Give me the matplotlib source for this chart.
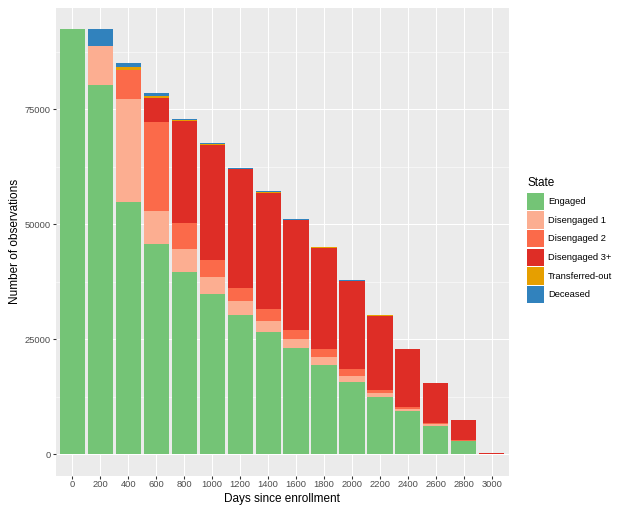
import matplotlib.pyplot as plt
import numpy as np
from matplotlib.patches import Rectangle

plt.rcParams["font.family"] = ["Liberation Sans", "DejaVu Sans"]

# Days since enrollment (discrete levels)
days = ["0", "200", "400", "600", "800", "1000", "1200", "1400", "1600",
        "1800", "2000", "2200", "2400", "2600", "2800", "3000"]

engaged = [92460, 80350, 54810, 45720, 39700, 34850, 30280, 26650, 23040,
           19480, 15780, 12460, 9350, 6220, 2800, 60]
disengaged_1 = [0, 8480, 22370, 7170, 4870, 3630, 3110, 2390, 2030,
                1740, 1310, 870, 500, 370, 100, 10]
disengaged_2 = [0, 0, 6430, 19290, 5710, 3700, 2830, 2480, 1950,
                1610, 1390, 710, 430, 210, 140, 10]
disengaged_3 = [0, 0, 0, 5350, 22250, 25100, 25720, 25360, 23890,
                22070, 19200, 16120, 12510, 8620, 4300, 230]
transferred = [0, 0, 520, 430, 130, 110, 100, 90, 80,
               70, 60, 50, 40, 30, 20, 0]
deceased = [0, 3630, 1000, 650, 300, 240, 200, 160, 120,
            100, 90, 70, 60, 50, 30, 0]

states = ["Engaged", "Disengaged 1", "Disengaged 2", "Disengaged 3+",
          "Transferred-out", "Deceased"]
colors = ["#74C476", "#FCAE91", "#FB6A4A", "#DE2D26", "#E69F00", "#3182BD"]
series = [engaged, disengaged_1, disengaged_2, disengaged_3, transferred, deceased]

W, H = 624, 513
fig = plt.figure(figsize=(W / 72, H / 72), dpi=72)
ax = fig.add_axes([55.7 / W, 1 - 475.5 / H, (508.5 - 55.7) / W, (475.5 - 7.7) / H])
ax.set_facecolor("#EBEBEB")

x = np.arange(len(days))
bottom = np.zeros(len(days))
for vals, col in zip(series, colors):
    ax.bar(x, vals, width=0.9, bottom=bottom, color=col, linewidth=0, zorder=3)
    bottom += np.array(vals)

top = bottom.max()
ax.set_xlim(-0.6, len(days) - 0.4)
ax.set_ylim(-0.05 * top, 1.05 * top)

ax.set_xticks(x)
ax.set_xticklabels(days)
ax.set_yticks([0, 25000, 50000, 75000])
ax.set_yticklabels(["0", "25000", "50000", "75000"])
ax.set_yticks([12500, 37500, 62500, 87500], minor=True)

ax.grid(True, which="major", color="white", linewidth=1.07, zorder=0)
ax.grid(True, which="minor", axis="y", color="white", linewidth=0.53, zorder=0)
ax.set_axisbelow(True)
for s in ax.spines.values():
    s.set_visible(False)
ax.tick_params(which="major", length=2.75, width=1.07, color="#333333",
               labelsize=9.4, labelcolor="#4D4D4D", pad=2.2)
ax.tick_params(which="minor", length=0)

ax.set_xlabel("Days since enrollment", fontsize=11.7, color="black", labelpad=4)
ax.set_ylabel("Number of observations", fontsize=11.7, color="black", labelpad=4)

# legend drawn in pixel coordinates
lax = fig.add_axes([0, 0, 1, 1])
lax.set_xlim(0, W)
lax.set_ylim(H, 0)
lax.axis("off")
lax.text(527, 183.5, "State", fontsize=11.7, va="center", ha="left")
key_h = 18.6
for i, (name, col) in enumerate(zip(states, colors)):
    y0 = 192.3 + i * key_h
    lax.add_patch(Rectangle((527.3, y0 + 0.5), 17, key_h - 1.2,
                            facecolor=col, edgecolor="none"))
    lax.text(548, y0 + key_h / 2, name, fontsize=9.4, va="center", ha="left")

fig.savefig("out.png", dpi=72)
